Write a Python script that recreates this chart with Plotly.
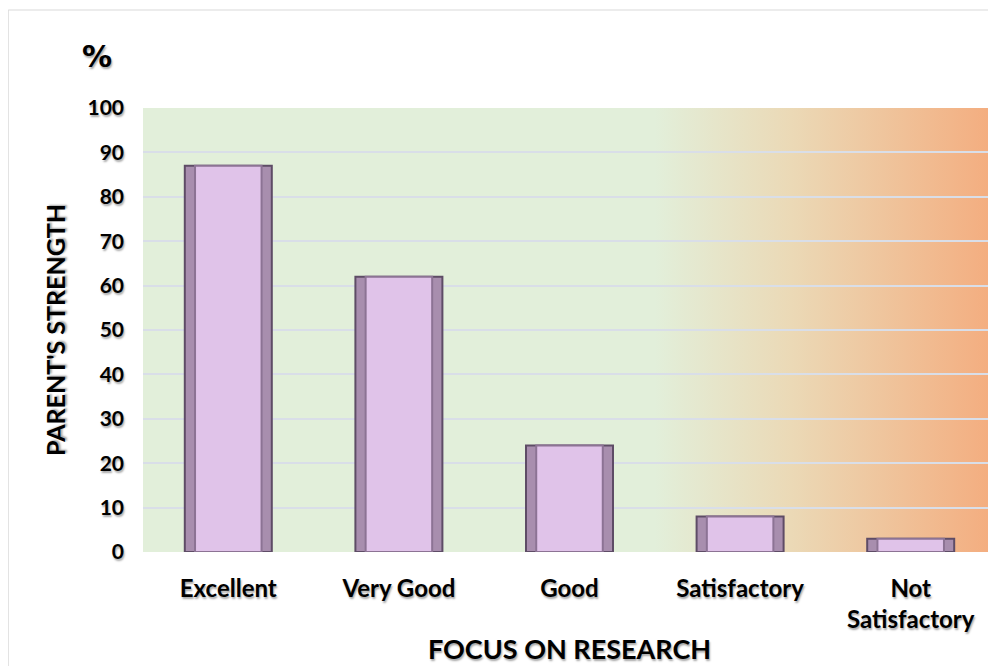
import base64
import plotly.graph_objects as go

# data
categories = ["Excellent", "Very Good", "Good", "Satisfactory", "Not<br>Satisfactory"]
strength = [87, 62, 24, 8, 3]
y_ticks = [0, 10, 20, 30, 40, 50, 60, 70, 80, 90, 100]

FONT = "Lato, 'Open Sans', sans-serif"
SHADOW = "1px 2px 2px rgba(0,0,0,0.35)"

# plot-area background: green fading into orange on the right
BG_SVG = (
    '<svg xmlns="http://www.w3.org/2000/svg" width="200" height="20" preserveAspectRatio="none">'
    '<defs><linearGradient id="g" x1="0" x2="1" y1="0" y2="0">'
    '<stop offset="0" stop-color="#E2EFDA"/>'
    '<stop offset="0.6" stop-color="#E2EFDA"/>'
    '<stop offset="0.76" stop-color="#EBD9B6"/>'
    '<stop offset="1" stop-color="#F4AC7E"/>'
    '</linearGradient></defs>'
    '<rect width="200" height="20" fill="url(#g)"/></svg>'
)
bg_uri = "data:image/svg+xml;base64," + base64.b64encode(BG_SVG.encode()).decode()

fig = go.Figure()

# outer bevel of the bars
fig.add_trace(go.Bar(
    x=categories, y=strength, width=0.51,
    marker=dict(color="#A88EAE", line=dict(color="#5E4C66", width=2)),
    showlegend=False,
))
# inner face of the bars
fig.add_trace(go.Bar(
    x=categories, y=strength, width=0.39,
    marker=dict(color="#E0C3E9", line=dict(color="#8C7394", width=2)),
    showlegend=False,
))

# the page body adds an 8px margin, so the figure is 8px smaller than the window
fig.update_layout(
    width=988, height=658,
    margin=dict(l=135, r=0, t=100, b=114),
    paper_bgcolor="white",
    plot_bgcolor="white",
    barmode="overlay",
    font=dict(family=FONT, color="black"),
    images=[dict(
        source=bg_uri, xref="paper", yref="paper",
        x=0, y=1, sizex=1, sizey=1,
        xanchor="left", yanchor="top",
        sizing="stretch", layer="below",
    )],
    xaxis=dict(
        type="category",
        range=[-0.5, 4.5],
        automargin=False,
        showgrid=False,
        ticks="outside", ticklen=15, tickcolor="rgba(0,0,0,0)",
        tickfont=dict(size=24, family=FONT, weight="bold", shadow=SHADOW),
        title=dict(text="FOCUS ON RESEARCH", standoff=8,
                   font=dict(size=27, family=FONT, weight="bold", shadow=SHADOW)),
    ),
    yaxis=dict(
        range=[0, 100],
        tickvals=y_ticks,
        automargin=False,
        showgrid=True, gridcolor="#D9DEE8", gridwidth=2,
        zeroline=False,
        ticklabelstandoff=18,
        tickfont=dict(size=21, family=FONT, weight="bold", shadow=SHADOW),
        title=dict(text="PARENT'S STRENGTH", standoff=14,
                   font=dict(size=25, family=FONT, weight="bold", shadow=SHADOW)),
    ),
    shapes=[dict(
        type="rect", xref="paper", yref="paper",
        x0=-0.158, x1=1.05, y0=-0.6, y1=1.2207,
        line=dict(color="#D9D9D9", width=1), layer="below",
    )],
    annotations=[dict(
        text="%", xref="paper", yref="paper",
        x=-0.054, y=1.115, xanchor="center", yanchor="middle",
        showarrow=False,
        font=dict(size=30, family="DejaVu Sans", weight="bold", shadow=SHADOW),
    )],
)

fig.write_html("out.html")
